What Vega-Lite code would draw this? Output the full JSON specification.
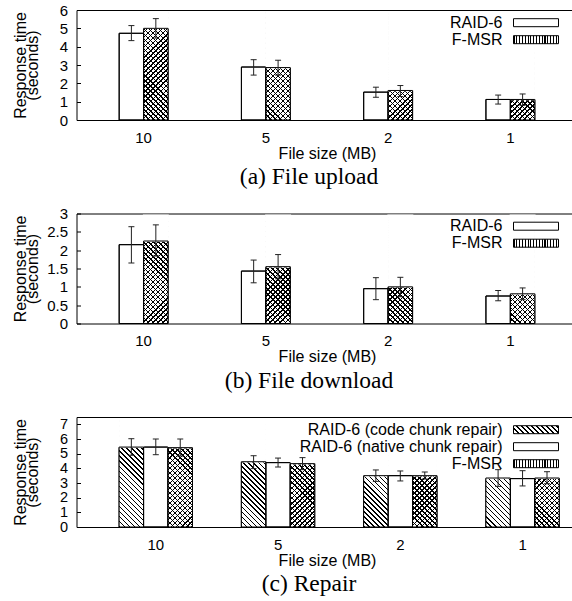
{
"$schema": "https://vega.github.io/schema/vega-lite/v6.json",
"padding": {"left": 11.5, "top": 2, "right": 0, "bottom": 0},
"bounds": "flush",
"spacing": 93.5,
"config": {
  "font": "Liberation Sans",
  "view": {"stroke": "black", "strokeWidth": 1},
  "axis": {"labelFontSize": 15, "titleFontSize": 16, "titleFontWeight": "normal", "labelColor": "black", "titleColor": "black", "tickColor": "black", "grid": false, "labelOverlap": false}
},
"resolve": {"scale": {"fill": "independent", "x": "independent", "y": "independent", "xOffset": "independent"}, "axis": {}, "legend": {"fill": "independent"}},
"datasets": {
  "a": [
    {"size": "10", "series": "RAID-6", "v": 4.73, "lo": 4.33, "hi": 5.15},
    {"size": "10", "series": "F-MSR", "v": 5.0, "lo": 4.47, "hi": 5.53},
    {"size": "5", "series": "RAID-6", "v": 2.89, "lo": 2.45, "hi": 3.29},
    {"size": "5", "series": "F-MSR", "v": 2.86, "lo": 2.45, "hi": 3.26},
    {"size": "2", "series": "RAID-6", "v": 1.52, "lo": 1.24, "hi": 1.79},
    {"size": "2", "series": "F-MSR", "v": 1.61, "lo": 1.28, "hi": 1.88},
    {"size": "1", "series": "RAID-6", "v": 1.12, "lo": 0.87, "hi": 1.36},
    {"size": "1", "series": "F-MSR", "v": 1.12, "lo": 0.8, "hi": 1.42}
  ],
  "b": [
    {"size": "10", "series": "RAID-6", "v": 2.15, "lo": 1.65, "hi": 2.64},
    {"size": "10", "series": "F-MSR", "v": 2.25, "lo": 1.84, "hi": 2.69},
    {"size": "5", "series": "RAID-6", "v": 1.43, "lo": 1.11, "hi": 1.73},
    {"size": "5", "series": "F-MSR", "v": 1.55, "lo": 1.22, "hi": 1.88},
    {"size": "2", "series": "RAID-6", "v": 0.95, "lo": 0.65, "hi": 1.25},
    {"size": "2", "series": "F-MSR", "v": 1.0, "lo": 0.73, "hi": 1.26},
    {"size": "1", "series": "RAID-6", "v": 0.75, "lo": 0.62, "hi": 0.9},
    {"size": "1", "series": "F-MSR", "v": 0.81, "lo": 0.65, "hi": 0.97}
  ],
  "c": [
    {"size": "10", "series": "RAID-6 (code chunk repair)", "v": 5.45, "lo": 4.89, "hi": 6.02},
    {"size": "10", "series": "RAID-6 (native chunk repair)", "v": 5.45, "lo": 4.93, "hi": 6.0},
    {"size": "10", "series": "F-MSR", "v": 5.41, "lo": 4.84, "hi": 6.0},
    {"size": "5", "series": "RAID-6 (code chunk repair)", "v": 4.45, "lo": 3.98, "hi": 4.86},
    {"size": "5", "series": "RAID-6 (native chunk repair)", "v": 4.39, "lo": 4.09, "hi": 4.7},
    {"size": "5", "series": "F-MSR", "v": 4.32, "lo": 3.91, "hi": 4.73},
    {"size": "2", "series": "RAID-6 (code chunk repair)", "v": 3.5, "lo": 3.11, "hi": 3.89},
    {"size": "2", "series": "RAID-6 (native chunk repair)", "v": 3.5, "lo": 3.14, "hi": 3.82},
    {"size": "2", "series": "F-MSR", "v": 3.5, "lo": 3.27, "hi": 3.75},
    {"size": "1", "series": "RAID-6 (code chunk repair)", "v": 3.34, "lo": 2.77, "hi": 3.91},
    {"size": "1", "series": "RAID-6 (native chunk repair)", "v": 3.3, "lo": 2.8, "hi": 3.84},
    {"size": "1", "series": "F-MSR", "v": 3.34, "lo": 2.95, "hi": 3.77}
  ]
},
"vconcat": [
{
  "width": 501, "height": 110,
  "data": {"name": "a"},
  "title": {"text": "(a) File upload", "orient": "bottom", "anchor": "middle", "frame": "group", "font": "Liberation Serif", "fontSize": 23.5, "fontWeight": "normal", "color": "black", "offset": 4, "dx": -18},
  "resolve": {"scale": {}, "axis": {"y": "independent"}, "legend": {}},
  "layer": [
    {
      "mark": {"type": "bar", "stroke": "black", "strokeWidth": 1},
      "encoding": {
        "x": {"field": "size", "type": "nominal", "scale": {"domain": ["10", "5", "2", "1"], "paddingInner": 0.6, "paddingOuter": 0.349, "align": 0.5}, "axis": {"title": "File size (MB)", "labelAngle": 0, "ticks": false, "domain": false, "labelPadding": 10, "titlePadding": 0}},
        "xOffset": {"field": "series", "type": "nominal", "scale": {"domain": ["RAID-6", "F-MSR"], "paddingInner": 0, "paddingOuter": 0}},
        "y": {"field": "v", "type": "quantitative", "scale": {"domain": [0, 6], "nice": false}, "axis": {"orient": "left", "values": [0, 1, 2, 3, 4, 5, 6], "format": "~g", "tickSize": -4, "labelPadding": 13, "domain": false, "title": ["Response time", "(seconds)"], "titleX": -64.5, "titleY": 55, "titleAngle": -90, "titleAlign": "center", "titleBaseline": "top", "titleLineHeight": 12}},
        "fill": {"field": "series", "type": "nominal", "scale": {"domain": ["RAID-6", "F-MSR"], "range": ["white", {"expr": "{gradient:'linear',x1:0,y1:0,x2:1,y2:0,stops:[{offset:0,color:'#000'},{offset:0.025,color:'#000'},{offset:0.025,color:'#fff'},{offset:0.0625,color:'#fff'},{offset:0.0625,color:'#000'},{offset:0.0875,color:'#000'},{offset:0.0875,color:'#fff'},{offset:0.125,color:'#fff'},{offset:0.125,color:'#000'},{offset:0.15,color:'#000'},{offset:0.15,color:'#fff'},{offset:0.1875,color:'#fff'},{offset:0.1875,color:'#000'},{offset:0.2125,color:'#000'},{offset:0.2125,color:'#fff'},{offset:0.25,color:'#fff'},{offset:0.25,color:'#000'},{offset:0.275,color:'#000'},{offset:0.275,color:'#fff'},{offset:0.3125,color:'#fff'},{offset:0.3125,color:'#000'},{offset:0.3375,color:'#000'},{offset:0.3375,color:'#fff'},{offset:0.375,color:'#fff'},{offset:0.375,color:'#000'},{offset:0.4,color:'#000'},{offset:0.4,color:'#fff'},{offset:0.4375,color:'#fff'},{offset:0.4375,color:'#000'},{offset:0.4625,color:'#000'},{offset:0.4625,color:'#fff'},{offset:0.5,color:'#fff'},{offset:0.5,color:'#000'},{offset:0.525,color:'#000'},{offset:0.525,color:'#fff'},{offset:0.5625,color:'#fff'},{offset:0.5625,color:'#000'},{offset:0.5875,color:'#000'},{offset:0.5875,color:'#fff'},{offset:0.625,color:'#fff'},{offset:0.625,color:'#000'},{offset:0.65,color:'#000'},{offset:0.65,color:'#fff'},{offset:0.6875,color:'#fff'},{offset:0.6875,color:'#000'},{offset:0.7125,color:'#000'},{offset:0.7125,color:'#fff'},{offset:0.75,color:'#fff'},{offset:0.75,color:'#000'},{offset:0.775,color:'#000'},{offset:0.775,color:'#fff'},{offset:0.8125,color:'#fff'},{offset:0.8125,color:'#000'},{offset:0.8375,color:'#000'},{offset:0.8375,color:'#fff'},{offset:0.875,color:'#fff'},{offset:0.875,color:'#000'},{offset:0.9,color:'#000'},{offset:0.9,color:'#fff'},{offset:0.9375,color:'#fff'},{offset:0.9375,color:'#000'},{offset:0.9625,color:'#000'},{offset:0.9625,color:'#fff'},{offset:1,color:'#fff'}]}"}]},
          "legend": {"orient": "none", "legendX": 451, "legendY": 4.2, "title": null, "symbolType": "M-2.8125,-0.5H2.8125V0.5H-2.8125Z", "symbolSize": 256, "symbolStrokeWidth": 1, "symbolStrokeColor": "black", "labelAlign": "right", "labelOffset": -42, "labelFontSize": 16, "labelColor": "black", "labelLimit": 400, "rowPadding": 0, "padding": 0}}
      }
    },
    {
      "transform": [{"filter": "datum.series === 'F-MSR'"}],
      "mark": {"type": "bar", "strokeWidth": 0, "fill": {"gradient": "linear", "x1": 0, "y1": 1, "x2": 0.27745, "y2": -0.2295, "stops": [{"offset":0,"color":"#000"},{"offset":0.01,"color":"#000"},{"offset":0.01,"color":"#fff"},{"offset":0.036,"color":"#fff"},{"offset":0.036,"color":"#000"},{"offset":0.046,"color":"#000"},{"offset":0.046,"color":"#fff"},{"offset":0.072,"color":"#fff"},{"offset":0.072,"color":"#000"},{"offset":0.082,"color":"#000"},{"offset":0.082,"color":"#fff"},{"offset":0.108,"color":"#fff"},{"offset":0.108,"color":"#000"},{"offset":0.118,"color":"#000"},{"offset":0.118,"color":"#fff"},{"offset":0.144,"color":"#fff"},{"offset":0.144,"color":"#000"},{"offset":0.154,"color":"#000"},{"offset":0.154,"color":"#fff"},{"offset":0.18,"color":"#fff"},{"offset":0.18,"color":"#000"},{"offset":0.19,"color":"#000"},{"offset":0.19,"color":"#fff"},{"offset":0.216,"color":"#fff"},{"offset":0.216,"color":"#000"},{"offset":0.226,"color":"#000"},{"offset":0.226,"color":"#fff"},{"offset":0.252,"color":"#fff"},{"offset":0.252,"color":"#000"},{"offset":0.262,"color":"#000"},{"offset":0.262,"color":"#fff"},{"offset":0.288,"color":"#fff"},{"offset":0.288,"color":"#000"},{"offset":0.298,"color":"#000"},{"offset":0.298,"color":"#fff"},{"offset":0.324,"color":"#fff"},{"offset":0.324,"color":"#000"},{"offset":0.334,"color":"#000"},{"offset":0.334,"color":"#fff"},{"offset":0.36,"color":"#fff"},{"offset":0.36,"color":"#000"},{"offset":0.37,"color":"#000"},{"offset":0.37,"color":"#fff"},{"offset":0.396,"color":"#fff"},{"offset":0.396,"color":"#000"},{"offset":0.406,"color":"#000"},{"offset":0.406,"color":"#fff"},{"offset":0.432,"color":"#fff"},{"offset":0.432,"color":"#000"},{"offset":0.442,"color":"#000"},{"offset":0.442,"color":"#fff"},{"offset":0.468,"color":"#fff"},{"offset":0.468,"color":"#000"},{"offset":0.478,"color":"#000"},{"offset":0.478,"color":"#fff"},{"offset":0.504,"color":"#fff"},{"offset":0.504,"color":"#000"},{"offset":0.514,"color":"#000"},{"offset":0.514,"color":"#fff"},{"offset":0.54,"color":"#fff"},{"offset":0.54,"color":"#000"},{"offset":0.55,"color":"#000"},{"offset":0.55,"color":"#fff"},{"offset":0.576,"color":"#fff"},{"offset":0.576,"color":"#000"},{"offset":0.586,"color":"#000"},{"offset":0.586,"color":"#fff"},{"offset":0.612,"color":"#fff"},{"offset":0.612,"color":"#000"},{"offset":0.622,"color":"#000"},{"offset":0.622,"color":"#fff"},{"offset":0.648,"color":"#fff"},{"offset":0.648,"color":"#000"},{"offset":0.658,"color":"#000"},{"offset":0.658,"color":"#fff"},{"offset":0.684,"color":"#fff"},{"offset":0.684,"color":"#000"},{"offset":0.694,"color":"#000"},{"offset":0.694,"color":"#fff"},{"offset":0.72,"color":"#fff"},{"offset":0.72,"color":"#000"},{"offset":0.73,"color":"#000"},{"offset":0.73,"color":"#fff"},{"offset":0.756,"color":"#fff"},{"offset":0.756,"color":"#000"},{"offset":0.766,"color":"#000"},{"offset":0.766,"color":"#fff"},{"offset":0.792,"color":"#fff"},{"offset":0.792,"color":"#000"},{"offset":0.802,"color":"#000"},{"offset":0.802,"color":"#fff"},{"offset":0.828,"color":"#fff"},{"offset":0.828,"color":"#000"},{"offset":0.838,"color":"#000"},{"offset":0.838,"color":"#fff"},{"offset":0.864,"color":"#fff"},{"offset":0.864,"color":"#000"},{"offset":0.874,"color":"#000"},{"offset":0.874,"color":"#fff"},{"offset":0.9,"color":"#fff"},{"offset":0.9,"color":"#000"},{"offset":0.91,"color":"#000"},{"offset":0.91,"color":"#fff"},{"offset":0.936,"color":"#fff"},{"offset":0.936,"color":"#000"},{"offset":0.946,"color":"#000"},{"offset":0.946,"color":"#fff"},{"offset":1,"color":"#fff"}]}},
      "encoding": {
        "x": {"field": "size", "type": "nominal"},
        "xOffset": {"field": "series", "type": "nominal"},
        "y": {"datum": 5.91, "type": "quantitative", "axis": null},
        "y2": {"datum": 0}
      }
    },
    {
      "transform": [{"filter": "datum.series === 'F-MSR'"}],
      "mark": {"type": "bar", "strokeWidth": 0, "fill": {"gradient": "linear", "x1": 0, "y1": 0, "x2": 0.27745, "y2": 1.2295, "stops": [{"offset":0,"color":"#000"},{"offset":0.01,"color":"#000"},{"offset":0.01,"color":"transparent"},{"offset":0.036,"color":"transparent"},{"offset":0.036,"color":"#000"},{"offset":0.046,"color":"#000"},{"offset":0.046,"color":"transparent"},{"offset":0.072,"color":"transparent"},{"offset":0.072,"color":"#000"},{"offset":0.082,"color":"#000"},{"offset":0.082,"color":"transparent"},{"offset":0.108,"color":"transparent"},{"offset":0.108,"color":"#000"},{"offset":0.118,"color":"#000"},{"offset":0.118,"color":"transparent"},{"offset":0.144,"color":"transparent"},{"offset":0.144,"color":"#000"},{"offset":0.154,"color":"#000"},{"offset":0.154,"color":"transparent"},{"offset":0.18,"color":"transparent"},{"offset":0.18,"color":"#000"},{"offset":0.19,"color":"#000"},{"offset":0.19,"color":"transparent"},{"offset":0.216,"color":"transparent"},{"offset":0.216,"color":"#000"},{"offset":0.226,"color":"#000"},{"offset":0.226,"color":"transparent"},{"offset":0.252,"color":"transparent"},{"offset":0.252,"color":"#000"},{"offset":0.262,"color":"#000"},{"offset":0.262,"color":"transparent"},{"offset":0.288,"color":"transparent"},{"offset":0.288,"color":"#000"},{"offset":0.298,"color":"#000"},{"offset":0.298,"color":"transparent"},{"offset":0.324,"color":"transparent"},{"offset":0.324,"color":"#000"},{"offset":0.334,"color":"#000"},{"offset":0.334,"color":"transparent"},{"offset":0.36,"color":"transparent"},{"offset":0.36,"color":"#000"},{"offset":0.37,"color":"#000"},{"offset":0.37,"color":"transparent"},{"offset":0.396,"color":"transparent"},{"offset":0.396,"color":"#000"},{"offset":0.406,"color":"#000"},{"offset":0.406,"color":"transparent"},{"offset":0.432,"color":"transparent"},{"offset":0.432,"color":"#000"},{"offset":0.442,"color":"#000"},{"offset":0.442,"color":"transparent"},{"offset":0.468,"color":"transparent"},{"offset":0.468,"color":"#000"},{"offset":0.478,"color":"#000"},{"offset":0.478,"color":"transparent"},{"offset":0.504,"color":"transparent"},{"offset":0.504,"color":"#000"},{"offset":0.514,"color":"#000"},{"offset":0.514,"color":"transparent"},{"offset":0.54,"color":"transparent"},{"offset":0.54,"color":"#000"},{"offset":0.55,"color":"#000"},{"offset":0.55,"color":"transparent"},{"offset":0.576,"color":"transparent"},{"offset":0.576,"color":"#000"},{"offset":0.586,"color":"#000"},{"offset":0.586,"color":"transparent"},{"offset":0.612,"color":"transparent"},{"offset":0.612,"color":"#000"},{"offset":0.622,"color":"#000"},{"offset":0.622,"color":"transparent"},{"offset":0.648,"color":"transparent"},{"offset":0.648,"color":"#000"},{"offset":0.658,"color":"#000"},{"offset":0.658,"color":"transparent"},{"offset":0.684,"color":"transparent"},{"offset":0.684,"color":"#000"},{"offset":0.694,"color":"#000"},{"offset":0.694,"color":"transparent"},{"offset":0.72,"color":"transparent"},{"offset":0.72,"color":"#000"},{"offset":0.73,"color":"#000"},{"offset":0.73,"color":"transparent"},{"offset":0.756,"color":"transparent"},{"offset":0.756,"color":"#000"},{"offset":0.766,"color":"#000"},{"offset":0.766,"color":"transparent"},{"offset":0.792,"color":"transparent"},{"offset":0.792,"color":"#000"},{"offset":0.802,"color":"#000"},{"offset":0.802,"color":"transparent"},{"offset":0.828,"color":"transparent"},{"offset":0.828,"color":"#000"},{"offset":0.838,"color":"#000"},{"offset":0.838,"color":"transparent"},{"offset":0.864,"color":"transparent"},{"offset":0.864,"color":"#000"},{"offset":0.874,"color":"#000"},{"offset":0.874,"color":"transparent"},{"offset":0.9,"color":"transparent"},{"offset":0.9,"color":"#000"},{"offset":0.91,"color":"#000"},{"offset":0.91,"color":"transparent"},{"offset":0.936,"color":"transparent"},{"offset":0.936,"color":"#000"},{"offset":0.946,"color":"#000"},{"offset":0.946,"color":"transparent"},{"offset":1,"color":"transparent"}]}},
      "encoding": {
        "x": {"field": "size", "type": "nominal"},
        "xOffset": {"field": "series", "type": "nominal"},
        "y": {"datum": 5.91, "type": "quantitative", "axis": null},
        "y2": {"datum": 0}
      }
    },
    {
      "transform": [{"filter": "datum.series === 'F-MSR'"}],
      "mark": {"type": "bar", "stroke": "white", "strokeWidth": 1.5, "fill": "white"},
      "encoding": {
        "x": {"field": "size", "type": "nominal"},
        "xOffset": {"field": "series", "type": "nominal"},
        "y": {"field": "v", "type": "quantitative", "axis": null},
        "y2": {"datum": 5.91}
      }
    },
    {
      "mark": {"type": "bar", "fill": "transparent", "stroke": "black", "strokeWidth": 1},
      "encoding": {
        "x": {"field": "size", "type": "nominal"},
        "xOffset": {"field": "series", "type": "nominal"},
        "y": {"field": "v", "type": "quantitative", "axis": null}
      }
    },
    {
      "mark": {"type": "rule", "color": "#222", "strokeWidth": 1},
      "encoding": {
        "x": {"field": "size", "type": "nominal"},
        "xOffset": {"field": "series", "type": "nominal"},
        "y": {"field": "lo", "type": "quantitative", "axis": {"orient": "right", "labels": false, "domain": false, "ticks": true, "tickSize": -4, "title": null, "values": [0, 1, 2, 3, 4, 5, 6]}},
        "y2": {"field": "hi"}
      }
    },
    {
      "mark": {"type": "tick", "color": "#222", "thickness": 1, "size": 6, "opacity": 1},
      "encoding": {
        "x": {"field": "size", "type": "nominal"},
        "xOffset": {"field": "series", "type": "nominal"},
        "y": {"field": "hi", "type": "quantitative", "axis": null}
      }
    },
    {
      "mark": {"type": "tick", "color": "#222", "thickness": 1, "size": 6, "opacity": 1},
      "encoding": {
        "x": {"field": "size", "type": "nominal"},
        "xOffset": {"field": "series", "type": "nominal"},
        "y": {"field": "lo", "type": "quantitative", "axis": null}
      }
    }
  ]
},
{
  "width": 501, "height": 110,
  "data": {"name": "b"},
  "title": {"text": "(b) File download", "orient": "bottom", "anchor": "middle", "frame": "group", "font": "Liberation Serif", "fontSize": 23.5, "fontWeight": "normal", "color": "black", "offset": 4, "dx": -18},
  "resolve": {"scale": {}, "axis": {"y": "independent"}, "legend": {}},
  "layer": [
    {
      "mark": {"type": "bar", "stroke": "black", "strokeWidth": 1},
      "encoding": {
        "x": {"field": "size", "type": "nominal", "scale": {"domain": ["10", "5", "2", "1"], "paddingInner": 0.6, "paddingOuter": 0.349, "align": 0.5}, "axis": {"title": "File size (MB)", "labelAngle": 0, "ticks": false, "domain": false, "labelPadding": 10, "titlePadding": 0}},
        "xOffset": {"field": "series", "type": "nominal", "scale": {"domain": ["RAID-6", "F-MSR"], "paddingInner": 0, "paddingOuter": 0}},
        "y": {"field": "v", "type": "quantitative", "scale": {"domain": [0, 3], "nice": false}, "axis": {"orient": "left", "values": [0, 0.5, 1, 1.5, 2, 2.5, 3], "format": "~g", "tickSize": -4, "labelPadding": 13, "domain": false, "title": ["Response time", "(seconds)"], "titleX": -64.5, "titleY": 55, "titleAngle": -90, "titleAlign": "center", "titleBaseline": "top", "titleLineHeight": 12}},
        "fill": {"field": "series", "type": "nominal", "scale": {"domain": ["RAID-6", "F-MSR"], "range": ["white", {"expr": "{gradient:'linear',x1:0,y1:0,x2:1,y2:0,stops:[{offset:0,color:'#000'},{offset:0.025,color:'#000'},{offset:0.025,color:'#fff'},{offset:0.0625,color:'#fff'},{offset:0.0625,color:'#000'},{offset:0.0875,color:'#000'},{offset:0.0875,color:'#fff'},{offset:0.125,color:'#fff'},{offset:0.125,color:'#000'},{offset:0.15,color:'#000'},{offset:0.15,color:'#fff'},{offset:0.1875,color:'#fff'},{offset:0.1875,color:'#000'},{offset:0.2125,color:'#000'},{offset:0.2125,color:'#fff'},{offset:0.25,color:'#fff'},{offset:0.25,color:'#000'},{offset:0.275,color:'#000'},{offset:0.275,color:'#fff'},{offset:0.3125,color:'#fff'},{offset:0.3125,color:'#000'},{offset:0.3375,color:'#000'},{offset:0.3375,color:'#fff'},{offset:0.375,color:'#fff'},{offset:0.375,color:'#000'},{offset:0.4,color:'#000'},{offset:0.4,color:'#fff'},{offset:0.4375,color:'#fff'},{offset:0.4375,color:'#000'},{offset:0.4625,color:'#000'},{offset:0.4625,color:'#fff'},{offset:0.5,color:'#fff'},{offset:0.5,color:'#000'},{offset:0.525,color:'#000'},{offset:0.525,color:'#fff'},{offset:0.5625,color:'#fff'},{offset:0.5625,color:'#000'},{offset:0.5875,color:'#000'},{offset:0.5875,color:'#fff'},{offset:0.625,color:'#fff'},{offset:0.625,color:'#000'},{offset:0.65,color:'#000'},{offset:0.65,color:'#fff'},{offset:0.6875,color:'#fff'},{offset:0.6875,color:'#000'},{offset:0.7125,color:'#000'},{offset:0.7125,color:'#fff'},{offset:0.75,color:'#fff'},{offset:0.75,color:'#000'},{offset:0.775,color:'#000'},{offset:0.775,color:'#fff'},{offset:0.8125,color:'#fff'},{offset:0.8125,color:'#000'},{offset:0.8375,color:'#000'},{offset:0.8375,color:'#fff'},{offset:0.875,color:'#fff'},{offset:0.875,color:'#000'},{offset:0.9,color:'#000'},{offset:0.9,color:'#fff'},{offset:0.9375,color:'#fff'},{offset:0.9375,color:'#000'},{offset:0.9625,color:'#000'},{offset:0.9625,color:'#fff'},{offset:1,color:'#fff'}]}"}]},
          "legend": {"orient": "none", "legendX": 451, "legendY": 4.2, "title": null, "symbolType": "M-2.8125,-0.5H2.8125V0.5H-2.8125Z", "symbolSize": 256, "symbolStrokeWidth": 1, "symbolStrokeColor": "black", "labelAlign": "right", "labelOffset": -42, "labelFontSize": 16, "labelColor": "black", "labelLimit": 400, "rowPadding": 0, "padding": 0}}
      }
    },
    {
      "transform": [{"filter": "datum.series === 'F-MSR'"}],
      "mark": {"type": "bar", "strokeWidth": 0, "fill": {"gradient": "linear", "x1": 0, "y1": 1, "x2": 0.27745, "y2": -0.2295, "stops": [{"offset":0,"color":"#000"},{"offset":0.01,"color":"#000"},{"offset":0.01,"color":"#fff"},{"offset":0.036,"color":"#fff"},{"offset":0.036,"color":"#000"},{"offset":0.046,"color":"#000"},{"offset":0.046,"color":"#fff"},{"offset":0.072,"color":"#fff"},{"offset":0.072,"color":"#000"},{"offset":0.082,"color":"#000"},{"offset":0.082,"color":"#fff"},{"offset":0.108,"color":"#fff"},{"offset":0.108,"color":"#000"},{"offset":0.118,"color":"#000"},{"offset":0.118,"color":"#fff"},{"offset":0.144,"color":"#fff"},{"offset":0.144,"color":"#000"},{"offset":0.154,"color":"#000"},{"offset":0.154,"color":"#fff"},{"offset":0.18,"color":"#fff"},{"offset":0.18,"color":"#000"},{"offset":0.19,"color":"#000"},{"offset":0.19,"color":"#fff"},{"offset":0.216,"color":"#fff"},{"offset":0.216,"color":"#000"},{"offset":0.226,"color":"#000"},{"offset":0.226,"color":"#fff"},{"offset":0.252,"color":"#fff"},{"offset":0.252,"color":"#000"},{"offset":0.262,"color":"#000"},{"offset":0.262,"color":"#fff"},{"offset":0.288,"color":"#fff"},{"offset":0.288,"color":"#000"},{"offset":0.298,"color":"#000"},{"offset":0.298,"color":"#fff"},{"offset":0.324,"color":"#fff"},{"offset":0.324,"color":"#000"},{"offset":0.334,"color":"#000"},{"offset":0.334,"color":"#fff"},{"offset":0.36,"color":"#fff"},{"offset":0.36,"color":"#000"},{"offset":0.37,"color":"#000"},{"offset":0.37,"color":"#fff"},{"offset":0.396,"color":"#fff"},{"offset":0.396,"color":"#000"},{"offset":0.406,"color":"#000"},{"offset":0.406,"color":"#fff"},{"offset":0.432,"color":"#fff"},{"offset":0.432,"color":"#000"},{"offset":0.442,"color":"#000"},{"offset":0.442,"color":"#fff"},{"offset":0.468,"color":"#fff"},{"offset":0.468,"color":"#000"},{"offset":0.478,"color":"#000"},{"offset":0.478,"color":"#fff"},{"offset":0.504,"color":"#fff"},{"offset":0.504,"color":"#000"},{"offset":0.514,"color":"#000"},{"offset":0.514,"color":"#fff"},{"offset":0.54,"color":"#fff"},{"offset":0.54,"color":"#000"},{"offset":0.55,"color":"#000"},{"offset":0.55,"color":"#fff"},{"offset":0.576,"color":"#fff"},{"offset":0.576,"color":"#000"},{"offset":0.586,"color":"#000"},{"offset":0.586,"color":"#fff"},{"offset":0.612,"color":"#fff"},{"offset":0.612,"color":"#000"},{"offset":0.622,"color":"#000"},{"offset":0.622,"color":"#fff"},{"offset":0.648,"color":"#fff"},{"offset":0.648,"color":"#000"},{"offset":0.658,"color":"#000"},{"offset":0.658,"color":"#fff"},{"offset":0.684,"color":"#fff"},{"offset":0.684,"color":"#000"},{"offset":0.694,"color":"#000"},{"offset":0.694,"color":"#fff"},{"offset":0.72,"color":"#fff"},{"offset":0.72,"color":"#000"},{"offset":0.73,"color":"#000"},{"offset":0.73,"color":"#fff"},{"offset":0.756,"color":"#fff"},{"offset":0.756,"color":"#000"},{"offset":0.766,"color":"#000"},{"offset":0.766,"color":"#fff"},{"offset":0.792,"color":"#fff"},{"offset":0.792,"color":"#000"},{"offset":0.802,"color":"#000"},{"offset":0.802,"color":"#fff"},{"offset":0.828,"color":"#fff"},{"offset":0.828,"color":"#000"},{"offset":0.838,"color":"#000"},{"offset":0.838,"color":"#fff"},{"offset":0.864,"color":"#fff"},{"offset":0.864,"color":"#000"},{"offset":0.874,"color":"#000"},{"offset":0.874,"color":"#fff"},{"offset":0.9,"color":"#fff"},{"offset":0.9,"color":"#000"},{"offset":0.91,"color":"#000"},{"offset":0.91,"color":"#fff"},{"offset":0.936,"color":"#fff"},{"offset":0.936,"color":"#000"},{"offset":0.946,"color":"#000"},{"offset":0.946,"color":"#fff"},{"offset":1,"color":"#fff"}]}},
      "encoding": {
        "x": {"field": "size", "type": "nominal"},
        "xOffset": {"field": "series", "type": "nominal"},
        "y": {"datum": 2.955, "type": "quantitative", "axis": null},
        "y2": {"datum": 0}
      }
    },
    {
      "transform": [{"filter": "datum.series === 'F-MSR'"}],
      "mark": {"type": "bar", "strokeWidth": 0, "fill": {"gradient": "linear", "x1": 0, "y1": 0, "x2": 0.27745, "y2": 1.2295, "stops": [{"offset":0,"color":"#000"},{"offset":0.01,"color":"#000"},{"offset":0.01,"color":"transparent"},{"offset":0.036,"color":"transparent"},{"offset":0.036,"color":"#000"},{"offset":0.046,"color":"#000"},{"offset":0.046,"color":"transparent"},{"offset":0.072,"color":"transparent"},{"offset":0.072,"color":"#000"},{"offset":0.082,"color":"#000"},{"offset":0.082,"color":"transparent"},{"offset":0.108,"color":"transparent"},{"offset":0.108,"color":"#000"},{"offset":0.118,"color":"#000"},{"offset":0.118,"color":"transparent"},{"offset":0.144,"color":"transparent"},{"offset":0.144,"color":"#000"},{"offset":0.154,"color":"#000"},{"offset":0.154,"color":"transparent"},{"offset":0.18,"color":"transparent"},{"offset":0.18,"color":"#000"},{"offset":0.19,"color":"#000"},{"offset":0.19,"color":"transparent"},{"offset":0.216,"color":"transparent"},{"offset":0.216,"color":"#000"},{"offset":0.226,"color":"#000"},{"offset":0.226,"color":"transparent"},{"offset":0.252,"color":"transparent"},{"offset":0.252,"color":"#000"},{"offset":0.262,"color":"#000"},{"offset":0.262,"color":"transparent"},{"offset":0.288,"color":"transparent"},{"offset":0.288,"color":"#000"},{"offset":0.298,"color":"#000"},{"offset":0.298,"color":"transparent"},{"offset":0.324,"color":"transparent"},{"offset":0.324,"color":"#000"},{"offset":0.334,"color":"#000"},{"offset":0.334,"color":"transparent"},{"offset":0.36,"color":"transparent"},{"offset":0.36,"color":"#000"},{"offset":0.37,"color":"#000"},{"offset":0.37,"color":"transparent"},{"offset":0.396,"color":"transparent"},{"offset":0.396,"color":"#000"},{"offset":0.406,"color":"#000"},{"offset":0.406,"color":"transparent"},{"offset":0.432,"color":"transparent"},{"offset":0.432,"color":"#000"},{"offset":0.442,"color":"#000"},{"offset":0.442,"color":"transparent"},{"offset":0.468,"color":"transparent"},{"offset":0.468,"color":"#000"},{"offset":0.478,"color":"#000"},{"offset":0.478,"color":"transparent"},{"offset":0.504,"color":"transparent"},{"offset":0.504,"color":"#000"},{"offset":0.514,"color":"#000"},{"offset":0.514,"color":"transparent"},{"offset":0.54,"color":"transparent"},{"offset":0.54,"color":"#000"},{"offset":0.55,"color":"#000"},{"offset":0.55,"color":"transparent"},{"offset":0.576,"color":"transparent"},{"offset":0.576,"color":"#000"},{"offset":0.586,"color":"#000"},{"offset":0.586,"color":"transparent"},{"offset":0.612,"color":"transparent"},{"offset":0.612,"color":"#000"},{"offset":0.622,"color":"#000"},{"offset":0.622,"color":"transparent"},{"offset":0.648,"color":"transparent"},{"offset":0.648,"color":"#000"},{"offset":0.658,"color":"#000"},{"offset":0.658,"color":"transparent"},{"offset":0.684,"color":"transparent"},{"offset":0.684,"color":"#000"},{"offset":0.694,"color":"#000"},{"offset":0.694,"color":"transparent"},{"offset":0.72,"color":"transparent"},{"offset":0.72,"color":"#000"},{"offset":0.73,"color":"#000"},{"offset":0.73,"color":"transparent"},{"offset":0.756,"color":"transparent"},{"offset":0.756,"color":"#000"},{"offset":0.766,"color":"#000"},{"offset":0.766,"color":"transparent"},{"offset":0.792,"color":"transparent"},{"offset":0.792,"color":"#000"},{"offset":0.802,"color":"#000"},{"offset":0.802,"color":"transparent"},{"offset":0.828,"color":"transparent"},{"offset":0.828,"color":"#000"},{"offset":0.838,"color":"#000"},{"offset":0.838,"color":"transparent"},{"offset":0.864,"color":"transparent"},{"offset":0.864,"color":"#000"},{"offset":0.874,"color":"#000"},{"offset":0.874,"color":"transparent"},{"offset":0.9,"color":"transparent"},{"offset":0.9,"color":"#000"},{"offset":0.91,"color":"#000"},{"offset":0.91,"color":"transparent"},{"offset":0.936,"color":"transparent"},{"offset":0.936,"color":"#000"},{"offset":0.946,"color":"#000"},{"offset":0.946,"color":"transparent"},{"offset":1,"color":"transparent"}]}},
      "encoding": {
        "x": {"field": "size", "type": "nominal"},
        "xOffset": {"field": "series", "type": "nominal"},
        "y": {"datum": 2.955, "type": "quantitative", "axis": null},
        "y2": {"datum": 0}
      }
    },
    {
      "transform": [{"filter": "datum.series === 'F-MSR'"}],
      "mark": {"type": "bar", "stroke": "white", "strokeWidth": 1.5, "fill": "white"},
      "encoding": {
        "x": {"field": "size", "type": "nominal"},
        "xOffset": {"field": "series", "type": "nominal"},
        "y": {"field": "v", "type": "quantitative", "axis": null},
        "y2": {"datum": 2.955}
      }
    },
    {
      "mark": {"type": "bar", "fill": "transparent", "stroke": "black", "strokeWidth": 1},
      "encoding": {
        "x": {"field": "size", "type": "nominal"},
        "xOffset": {"field": "series", "type": "nominal"},
        "y": {"field": "v", "type": "quantitative", "axis": null}
      }
    },
    {
      "mark": {"type": "rule", "color": "#222", "strokeWidth": 1},
      "encoding": {
        "x": {"field": "size", "type": "nominal"},
        "xOffset": {"field": "series", "type": "nominal"},
        "y": {"field": "lo", "type": "quantitative", "axis": {"orient": "right", "labels": false, "domain": false, "ticks": true, "tickSize": -4, "title": null, "values": [0, 0.5, 1, 1.5, 2, 2.5, 3]}},
        "y2": {"field": "hi"}
      }
    },
    {
      "mark": {"type": "tick", "color": "#222", "thickness": 1, "size": 6, "opacity": 1},
      "encoding": {
        "x": {"field": "size", "type": "nominal"},
        "xOffset": {"field": "series", "type": "nominal"},
        "y": {"field": "hi", "type": "quantitative", "axis": null}
      }
    },
    {
      "mark": {"type": "tick", "color": "#222", "thickness": 1, "size": 6, "opacity": 1},
      "encoding": {
        "x": {"field": "size", "type": "nominal"},
        "xOffset": {"field": "series", "type": "nominal"},
        "y": {"field": "lo", "type": "quantitative", "axis": null}
      }
    }
  ]
},
{
  "width": 501, "height": 110,
  "data": {"name": "c"},
  "title": {"text": "(c) Repair", "orient": "bottom", "anchor": "middle", "frame": "group", "font": "Liberation Serif", "fontSize": 23.5, "fontWeight": "normal", "color": "black", "offset": 4, "dx": -18},
  "resolve": {"scale": {}, "axis": {"y": "independent"}, "legend": {}},
  "layer": [
    {
      "mark": {"type": "bar", "stroke": "black", "strokeWidth": 1},
      "encoding": {
        "x": {"field": "size", "type": "nominal", "scale": {"domain": ["10", "5", "2", "1"], "paddingInner": 0.4, "paddingOuter": 0.249, "align": 0.7}, "axis": {"title": "File size (MB)", "labelAngle": 0, "ticks": false, "domain": false, "labelPadding": 10, "titlePadding": 0}},
        "xOffset": {"field": "series", "type": "nominal", "scale": {"domain": ["RAID-6 (code chunk repair)", "RAID-6 (native chunk repair)", "F-MSR"], "paddingInner": 0, "paddingOuter": 0}},
        "y": {"field": "v", "type": "quantitative", "scale": {"domain": [0, 7.5], "nice": false}, "axis": {"orient": "left", "values": [0, 1, 2, 3, 4, 5, 6, 7], "format": "~g", "tickSize": -4, "labelPadding": 13, "labelFontSize": 14.5, "domain": false, "title": ["Response time", "(seconds)"], "titleX": -64.5, "titleY": 55, "titleAngle": -90, "titleAlign": "center", "titleBaseline": "top", "titleLineHeight": 12}},
        "fill": {"field": "series", "type": "nominal", "scale": {"domain": ["RAID-6 (code chunk repair)", "RAID-6 (native chunk repair)", "F-MSR"], "range": [{"expr": "{gradient:'linear',x1:0,y1:1,x2:1.2925,y2:0.7702,stops:[{offset:0,color:'#000'},{offset:0.0235,color:'#000'},{offset:0.0235,color:'#fff'},{offset:0.0833,color:'#fff'},{offset:0.0833,color:'#000'},{offset:0.1068,color:'#000'},{offset:0.1068,color:'#fff'},{offset:0.1667,color:'#fff'},{offset:0.1667,color:'#000'},{offset:0.1902,color:'#000'},{offset:0.1902,color:'#fff'},{offset:0.25,color:'#fff'},{offset:0.25,color:'#000'},{offset:0.2735,color:'#000'},{offset:0.2735,color:'#fff'},{offset:0.3333,color:'#fff'},{offset:0.3333,color:'#000'},{offset:0.3568,color:'#000'},{offset:0.3568,color:'#fff'},{offset:0.4167,color:'#fff'},{offset:0.4167,color:'#000'},{offset:0.4402,color:'#000'},{offset:0.4402,color:'#fff'},{offset:0.5,color:'#fff'},{offset:0.5,color:'#000'},{offset:0.5235,color:'#000'},{offset:0.5235,color:'#fff'},{offset:0.5833,color:'#fff'},{offset:0.5833,color:'#000'},{offset:0.6068,color:'#000'},{offset:0.6068,color:'#fff'},{offset:0.6667,color:'#fff'},{offset:0.6667,color:'#000'},{offset:0.6902,color:'#000'},{offset:0.6902,color:'#fff'},{offset:0.75,color:'#fff'},{offset:0.75,color:'#000'},{offset:0.7735,color:'#000'},{offset:0.7735,color:'#fff'},{offset:0.8333,color:'#fff'},{offset:0.8333,color:'#000'},{offset:0.8568,color:'#000'},{offset:0.8568,color:'#fff'},{offset:1,color:'#fff'}]}"}, "white", {"expr": "{gradient:'linear',x1:0,y1:0,x2:1,y2:0,stops:[{offset:0,color:'#000'},{offset:0.025,color:'#000'},{offset:0.025,color:'#fff'},{offset:0.0625,color:'#fff'},{offset:0.0625,color:'#000'},{offset:0.0875,color:'#000'},{offset:0.0875,color:'#fff'},{offset:0.125,color:'#fff'},{offset:0.125,color:'#000'},{offset:0.15,color:'#000'},{offset:0.15,color:'#fff'},{offset:0.1875,color:'#fff'},{offset:0.1875,color:'#000'},{offset:0.2125,color:'#000'},{offset:0.2125,color:'#fff'},{offset:0.25,color:'#fff'},{offset:0.25,color:'#000'},{offset:0.275,color:'#000'},{offset:0.275,color:'#fff'},{offset:0.3125,color:'#fff'},{offset:0.3125,color:'#000'},{offset:0.3375,color:'#000'},{offset:0.3375,color:'#fff'},{offset:0.375,color:'#fff'},{offset:0.375,color:'#000'},{offset:0.4,color:'#000'},{offset:0.4,color:'#fff'},{offset:0.4375,color:'#fff'},{offset:0.4375,color:'#000'},{offset:0.4625,color:'#000'},{offset:0.4625,color:'#fff'},{offset:0.5,color:'#fff'},{offset:0.5,color:'#000'},{offset:0.525,color:'#000'},{offset:0.525,color:'#fff'},{offset:0.5625,color:'#fff'},{offset:0.5625,color:'#000'},{offset:0.5875,color:'#000'},{offset:0.5875,color:'#fff'},{offset:0.625,color:'#fff'},{offset:0.625,color:'#000'},{offset:0.65,color:'#000'},{offset:0.65,color:'#fff'},{offset:0.6875,color:'#fff'},{offset:0.6875,color:'#000'},{offset:0.7125,color:'#000'},{offset:0.7125,color:'#fff'},{offset:0.75,color:'#fff'},{offset:0.75,color:'#000'},{offset:0.775,color:'#000'},{offset:0.775,color:'#fff'},{offset:0.8125,color:'#fff'},{offset:0.8125,color:'#000'},{offset:0.8375,color:'#000'},{offset:0.8375,color:'#fff'},{offset:0.875,color:'#fff'},{offset:0.875,color:'#000'},{offset:0.9,color:'#000'},{offset:0.9,color:'#fff'},{offset:0.9375,color:'#fff'},{offset:0.9375,color:'#000'},{offset:0.9625,color:'#000'},{offset:0.9625,color:'#fff'},{offset:1,color:'#fff'}]}"}]},
          "legend": {"orient": "none", "legendX": 451, "legendY": 4.2, "title": null, "symbolType": "M-2.8125,-0.5H2.8125V0.5H-2.8125Z", "symbolSize": 256, "symbolStrokeWidth": 1, "symbolStrokeColor": "black", "labelAlign": "right", "labelOffset": -42, "labelFontSize": 16, "labelColor": "black", "labelLimit": 400, "rowPadding": 0, "padding": 0}}
      }
    },
    {
      "transform": [{"filter": "datum.series !== 'RAID-6 (native chunk repair)'"}],
      "mark": {"type": "bar", "strokeWidth": 0, "fill": {"gradient": "linear", "x1": 0, "y1": 1, "x2": 0.27745, "y2": -0.2295, "stops": [{"offset":0,"color":"#000"},{"offset":0.01,"color":"#000"},{"offset":0.01,"color":"#fff"},{"offset":0.036,"color":"#fff"},{"offset":0.036,"color":"#000"},{"offset":0.046,"color":"#000"},{"offset":0.046,"color":"#fff"},{"offset":0.072,"color":"#fff"},{"offset":0.072,"color":"#000"},{"offset":0.082,"color":"#000"},{"offset":0.082,"color":"#fff"},{"offset":0.108,"color":"#fff"},{"offset":0.108,"color":"#000"},{"offset":0.118,"color":"#000"},{"offset":0.118,"color":"#fff"},{"offset":0.144,"color":"#fff"},{"offset":0.144,"color":"#000"},{"offset":0.154,"color":"#000"},{"offset":0.154,"color":"#fff"},{"offset":0.18,"color":"#fff"},{"offset":0.18,"color":"#000"},{"offset":0.19,"color":"#000"},{"offset":0.19,"color":"#fff"},{"offset":0.216,"color":"#fff"},{"offset":0.216,"color":"#000"},{"offset":0.226,"color":"#000"},{"offset":0.226,"color":"#fff"},{"offset":0.252,"color":"#fff"},{"offset":0.252,"color":"#000"},{"offset":0.262,"color":"#000"},{"offset":0.262,"color":"#fff"},{"offset":0.288,"color":"#fff"},{"offset":0.288,"color":"#000"},{"offset":0.298,"color":"#000"},{"offset":0.298,"color":"#fff"},{"offset":0.324,"color":"#fff"},{"offset":0.324,"color":"#000"},{"offset":0.334,"color":"#000"},{"offset":0.334,"color":"#fff"},{"offset":0.36,"color":"#fff"},{"offset":0.36,"color":"#000"},{"offset":0.37,"color":"#000"},{"offset":0.37,"color":"#fff"},{"offset":0.396,"color":"#fff"},{"offset":0.396,"color":"#000"},{"offset":0.406,"color":"#000"},{"offset":0.406,"color":"#fff"},{"offset":0.432,"color":"#fff"},{"offset":0.432,"color":"#000"},{"offset":0.442,"color":"#000"},{"offset":0.442,"color":"#fff"},{"offset":0.468,"color":"#fff"},{"offset":0.468,"color":"#000"},{"offset":0.478,"color":"#000"},{"offset":0.478,"color":"#fff"},{"offset":0.504,"color":"#fff"},{"offset":0.504,"color":"#000"},{"offset":0.514,"color":"#000"},{"offset":0.514,"color":"#fff"},{"offset":0.54,"color":"#fff"},{"offset":0.54,"color":"#000"},{"offset":0.55,"color":"#000"},{"offset":0.55,"color":"#fff"},{"offset":0.576,"color":"#fff"},{"offset":0.576,"color":"#000"},{"offset":0.586,"color":"#000"},{"offset":0.586,"color":"#fff"},{"offset":0.612,"color":"#fff"},{"offset":0.612,"color":"#000"},{"offset":0.622,"color":"#000"},{"offset":0.622,"color":"#fff"},{"offset":0.648,"color":"#fff"},{"offset":0.648,"color":"#000"},{"offset":0.658,"color":"#000"},{"offset":0.658,"color":"#fff"},{"offset":0.684,"color":"#fff"},{"offset":0.684,"color":"#000"},{"offset":0.694,"color":"#000"},{"offset":0.694,"color":"#fff"},{"offset":0.72,"color":"#fff"},{"offset":0.72,"color":"#000"},{"offset":0.73,"color":"#000"},{"offset":0.73,"color":"#fff"},{"offset":0.756,"color":"#fff"},{"offset":0.756,"color":"#000"},{"offset":0.766,"color":"#000"},{"offset":0.766,"color":"#fff"},{"offset":0.792,"color":"#fff"},{"offset":0.792,"color":"#000"},{"offset":0.802,"color":"#000"},{"offset":0.802,"color":"#fff"},{"offset":0.828,"color":"#fff"},{"offset":0.828,"color":"#000"},{"offset":0.838,"color":"#000"},{"offset":0.838,"color":"#fff"},{"offset":0.864,"color":"#fff"},{"offset":0.864,"color":"#000"},{"offset":0.874,"color":"#000"},{"offset":0.874,"color":"#fff"},{"offset":0.9,"color":"#fff"},{"offset":0.9,"color":"#000"},{"offset":0.91,"color":"#000"},{"offset":0.91,"color":"#fff"},{"offset":0.936,"color":"#fff"},{"offset":0.936,"color":"#000"},{"offset":0.946,"color":"#000"},{"offset":0.946,"color":"#fff"},{"offset":1,"color":"#fff"}]}},
      "encoding": {
        "x": {"field": "size", "type": "nominal"},
        "xOffset": {"field": "series", "type": "nominal"},
        "y": {"datum": 7.3875, "type": "quantitative", "axis": null},
        "y2": {"datum": 0}
      }
    },
    {
      "transform": [{"filter": "datum.series === 'F-MSR'"}],
      "mark": {"type": "bar", "strokeWidth": 0, "fill": {"gradient": "linear", "x1": 0, "y1": 0, "x2": 0.27745, "y2": 1.2295, "stops": [{"offset":0,"color":"#000"},{"offset":0.01,"color":"#000"},{"offset":0.01,"color":"transparent"},{"offset":0.036,"color":"transparent"},{"offset":0.036,"color":"#000"},{"offset":0.046,"color":"#000"},{"offset":0.046,"color":"transparent"},{"offset":0.072,"color":"transparent"},{"offset":0.072,"color":"#000"},{"offset":0.082,"color":"#000"},{"offset":0.082,"color":"transparent"},{"offset":0.108,"color":"transparent"},{"offset":0.108,"color":"#000"},{"offset":0.118,"color":"#000"},{"offset":0.118,"color":"transparent"},{"offset":0.144,"color":"transparent"},{"offset":0.144,"color":"#000"},{"offset":0.154,"color":"#000"},{"offset":0.154,"color":"transparent"},{"offset":0.18,"color":"transparent"},{"offset":0.18,"color":"#000"},{"offset":0.19,"color":"#000"},{"offset":0.19,"color":"transparent"},{"offset":0.216,"color":"transparent"},{"offset":0.216,"color":"#000"},{"offset":0.226,"color":"#000"},{"offset":0.226,"color":"transparent"},{"offset":0.252,"color":"transparent"},{"offset":0.252,"color":"#000"},{"offset":0.262,"color":"#000"},{"offset":0.262,"color":"transparent"},{"offset":0.288,"color":"transparent"},{"offset":0.288,"color":"#000"},{"offset":0.298,"color":"#000"},{"offset":0.298,"color":"transparent"},{"offset":0.324,"color":"transparent"},{"offset":0.324,"color":"#000"},{"offset":0.334,"color":"#000"},{"offset":0.334,"color":"transparent"},{"offset":0.36,"color":"transparent"},{"offset":0.36,"color":"#000"},{"offset":0.37,"color":"#000"},{"offset":0.37,"color":"transparent"},{"offset":0.396,"color":"transparent"},{"offset":0.396,"color":"#000"},{"offset":0.406,"color":"#000"},{"offset":0.406,"color":"transparent"},{"offset":0.432,"color":"transparent"},{"offset":0.432,"color":"#000"},{"offset":0.442,"color":"#000"},{"offset":0.442,"color":"transparent"},{"offset":0.468,"color":"transparent"},{"offset":0.468,"color":"#000"},{"offset":0.478,"color":"#000"},{"offset":0.478,"color":"transparent"},{"offset":0.504,"color":"transparent"},{"offset":0.504,"color":"#000"},{"offset":0.514,"color":"#000"},{"offset":0.514,"color":"transparent"},{"offset":0.54,"color":"transparent"},{"offset":0.54,"color":"#000"},{"offset":0.55,"color":"#000"},{"offset":0.55,"color":"transparent"},{"offset":0.576,"color":"transparent"},{"offset":0.576,"color":"#000"},{"offset":0.586,"color":"#000"},{"offset":0.586,"color":"transparent"},{"offset":0.612,"color":"transparent"},{"offset":0.612,"color":"#000"},{"offset":0.622,"color":"#000"},{"offset":0.622,"color":"transparent"},{"offset":0.648,"color":"transparent"},{"offset":0.648,"color":"#000"},{"offset":0.658,"color":"#000"},{"offset":0.658,"color":"transparent"},{"offset":0.684,"color":"transparent"},{"offset":0.684,"color":"#000"},{"offset":0.694,"color":"#000"},{"offset":0.694,"color":"transparent"},{"offset":0.72,"color":"transparent"},{"offset":0.72,"color":"#000"},{"offset":0.73,"color":"#000"},{"offset":0.73,"color":"transparent"},{"offset":0.756,"color":"transparent"},{"offset":0.756,"color":"#000"},{"offset":0.766,"color":"#000"},{"offset":0.766,"color":"transparent"},{"offset":0.792,"color":"transparent"},{"offset":0.792,"color":"#000"},{"offset":0.802,"color":"#000"},{"offset":0.802,"color":"transparent"},{"offset":0.828,"color":"transparent"},{"offset":0.828,"color":"#000"},{"offset":0.838,"color":"#000"},{"offset":0.838,"color":"transparent"},{"offset":0.864,"color":"transparent"},{"offset":0.864,"color":"#000"},{"offset":0.874,"color":"#000"},{"offset":0.874,"color":"transparent"},{"offset":0.9,"color":"transparent"},{"offset":0.9,"color":"#000"},{"offset":0.91,"color":"#000"},{"offset":0.91,"color":"transparent"},{"offset":0.936,"color":"transparent"},{"offset":0.936,"color":"#000"},{"offset":0.946,"color":"#000"},{"offset":0.946,"color":"transparent"},{"offset":1,"color":"transparent"}]}},
      "encoding": {
        "x": {"field": "size", "type": "nominal"},
        "xOffset": {"field": "series", "type": "nominal"},
        "y": {"datum": 7.3875, "type": "quantitative", "axis": null},
        "y2": {"datum": 0}
      }
    },
    {
      "transform": [{"filter": "datum.series !== 'RAID-6 (native chunk repair)'"}],
      "mark": {"type": "bar", "stroke": "white", "strokeWidth": 1.5, "fill": "white"},
      "encoding": {
        "x": {"field": "size", "type": "nominal"},
        "xOffset": {"field": "series", "type": "nominal"},
        "y": {"field": "v", "type": "quantitative", "axis": null},
        "y2": {"datum": 7.3875}
      }
    },
    {
      "mark": {"type": "bar", "fill": "transparent", "stroke": "black", "strokeWidth": 1},
      "encoding": {
        "x": {"field": "size", "type": "nominal"},
        "xOffset": {"field": "series", "type": "nominal"},
        "y": {"field": "v", "type": "quantitative", "axis": null}
      }
    },
    {
      "mark": {"type": "rule", "color": "#222", "strokeWidth": 1},
      "encoding": {
        "x": {"field": "size", "type": "nominal"},
        "xOffset": {"field": "series", "type": "nominal"},
        "y": {"field": "lo", "type": "quantitative", "axis": {"orient": "right", "labels": false, "domain": false, "ticks": true, "tickSize": -4, "title": null, "values": [0, 1, 2, 3, 4, 5, 6, 7]}},
        "y2": {"field": "hi"}
      }
    },
    {
      "mark": {"type": "tick", "color": "#222", "thickness": 1, "size": 6, "opacity": 1},
      "encoding": {
        "x": {"field": "size", "type": "nominal"},
        "xOffset": {"field": "series", "type": "nominal"},
        "y": {"field": "hi", "type": "quantitative", "axis": null}
      }
    },
    {
      "mark": {"type": "tick", "color": "#222", "thickness": 1, "size": 6, "opacity": 1},
      "encoding": {
        "x": {"field": "size", "type": "nominal"},
        "xOffset": {"field": "series", "type": "nominal"},
        "y": {"field": "lo", "type": "quantitative", "axis": null}
      }
    }
  ]
}
]
}
